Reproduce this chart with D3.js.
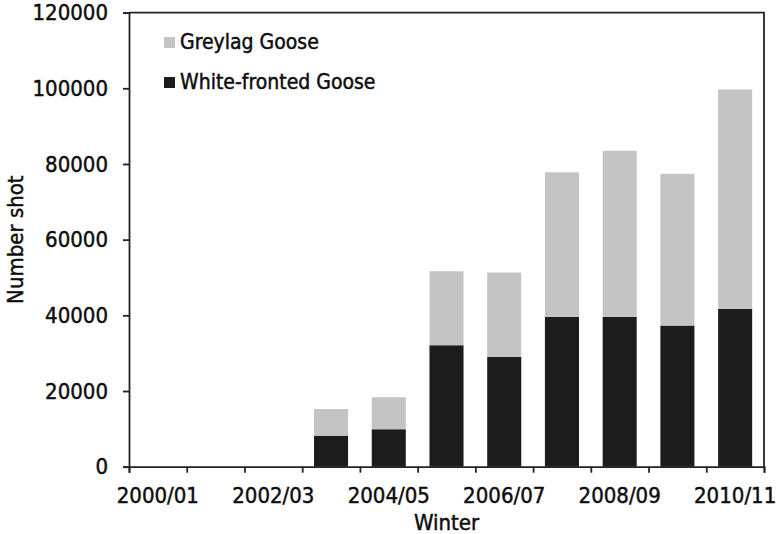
<!DOCTYPE html>
<html>
<head>
<meta charset="utf-8">
<script src="https://cdn.jsdelivr.net/npm/d3@7"></script>
<style>
  html, body { margin: 0; padding: 0; background: #fff; }
  svg { display: block; }
  text { font-family: "DejaVu Sans Condensed", "DejaVu Sans", sans-serif; font-stretch: condensed; fill: #0d0d0d; stroke: #0d0d0d; stroke-width: 0.45px; }
</style>
</head>
<body>
<svg id="chart" width="778" height="534"></svg>
<script>
const categories = ["2000/01","2001/02","2002/03","2003/04","2004/05","2005/06","2006/07","2007/08","2008/09","2009/10","2010/11"];
const whiteFronted = [null, null, null, 8200, 9900, 32100, 29000, 39600, 39600, 37300, 41700];
const greylag      = [null, null, null, 7050, 8450, 19550, 22300, 38200, 43900, 40100, 58000];
const yTicks = [0, 20000, 40000, 60000, 80000, 100000, 120000];
const xLabels = ["2000/01","2002/03","2004/05","2006/07","2008/09","2010/11"];
const seriesNames = ["Greylag Goose", "White-fronted Goose"];
const seriesColors = ["#c4c4c4", "#1c1c1c"];

const svg = d3.select("#chart");
const m = { left: 129, right: 764, top: 12.6, bottom: 466.7 };

const x = d3.scaleBand().domain(categories).range([m.left, m.right])
  .paddingInner(0.41).paddingOuter(0.205);
const xb = d3.scaleLinear().domain([0, categories.length]).range([m.left, m.right]);
const y = d3.scaleLinear().domain([0, 120000]).range([m.bottom, m.top]);

const rows = categories.map((c, i) => ({ cat: c, white: whiteFronted[i], grey: greylag[i] }))
  .filter(d => d.white != null);

// bars
const g = svg.append("g");
g.selectAll("rect.white").data(rows).join("rect")
  .attr("class", "white")
  .attr("x", d => x(d.cat)).attr("width", x.bandwidth())
  .attr("y", d => y(d.white)).attr("height", d => y(0) - y(d.white))
  .attr("fill", seriesColors[1]);
g.selectAll("rect.grey").data(rows).join("rect")
  .attr("class", "grey")
  .attr("x", d => x(d.cat)).attr("width", x.bandwidth())
  .attr("y", d => y(d.white + d.grey)).attr("height", d => y(d.white) - y(d.white + d.grey))
  .attr("fill", seriesColors[0]);

// frame (top & right)
svg.append("path")
  .attr("d", `M${m.left},${m.top}H${m.right}V${m.bottom}`)
  .attr("fill", "none").attr("stroke", "#222").attr("stroke-width", 1.8);

// y axis
const yAxis = svg.append("g").attr("transform", `translate(${m.left},0)`)
  .call(d3.axisLeft(y).tickValues(yTicks).tickFormat(d3.format("d")).tickSize(6).tickPadding(15));
yAxis.selectAll("text").attr("font-size", 22);
yAxis.attr("font-family", null);

// x axis: boundary ticks
const xTickAxis = svg.append("g").attr("transform", `translate(0,${m.bottom})`)
  .call(d3.axisBottom(xb).tickValues(d3.range(categories.length + 1)).tickFormat("").tickSize(6));
// x labels
const xLabAxis = svg.append("g").attr("transform", `translate(0,${m.bottom})`)
  .call(d3.axisBottom(x).tickValues(xLabels).tickSize(0).tickPadding(21));
xLabAxis.select(".domain").remove();
xLabAxis.selectAll("text").attr("font-size", 22);
xLabAxis.attr("font-family", null);
xTickAxis.attr("font-family", null);

svg.selectAll(".domain, .tick line").attr("stroke", "#222").attr("stroke-width", 1.8);

// axis titles
svg.append("text").attr("x", (m.left + m.right) / 2).attr("y", 530)
  .attr("text-anchor", "middle").attr("font-size", 22).text("Winter");
svg.append("text").attr("transform", `translate(23,${(m.top + m.bottom) / 2}) rotate(-90)`)
  .attr("text-anchor", "middle").attr("font-size", 22).text("Number shot");

// legend
const leg = svg.append("g");
seriesNames.forEach((name, i) => {
  const ly = 49 + i * 40;
  leg.append("rect").attr("x", 164).attr("y", ly - 12).attr("width", 11).attr("height", 11)
    .attr("fill", seriesColors[i]);
  leg.append("text").attr("x", 180).attr("y", ly).attr("font-size", 21).text(name);
});
</script>
</body>
</html>
